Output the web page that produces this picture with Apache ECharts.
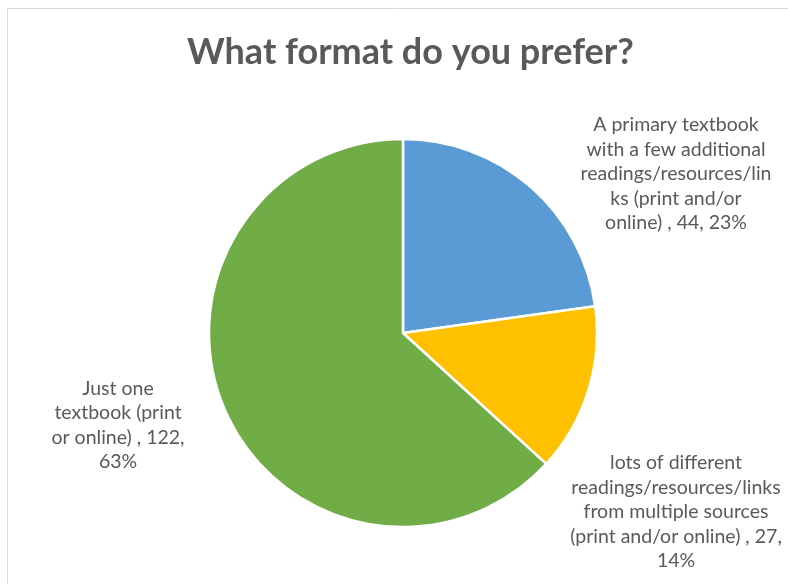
<!DOCTYPE html>
<html>
<head>
<meta charset="utf-8">
<style>
  html, body { margin: 0; padding: 0; background: #ffffff; }
  #chart { width: 788px; height: 584px; }
</style>
<script src="https://cdn.jsdelivr.net/npm/echarts@6/dist/echarts.min.js"></script>
</head>
<body>
<div id="chart"></div>
<script>
// Survey answers: "What format do you prefer?"
const categories = [
  'A primary textbook\nwith a few additional\nreadings/resources/lin\nks (print and/or\nonline)',
  'lots of different\nreadings/resources/links\nfrom multiple sources\n(print and/or online)',
  'Just one\ntextbook (print\nor online)'
];
const responses = [44, 27, 122];
const sliceColors = ['#5B9BD5', '#FFC000', '#70AD47'];

// How each label wraps between the value and the percentage
const percentBreak = [' ', '\n', '\n'];
// Label block centres (px)
const labelSpots = [
  { x: 676, y: 174 },
  { x: 676, y: 512 },
  { x: 118, y: 425 }
];

const chart = echarts.init(document.getElementById('chart'), null, { renderer: 'canvas' });
const total = responses.reduce((a, b) => a + b, 0);

chart.setOption({
  animation: false,
  backgroundColor: '#ffffff',
  title: {
    text: 'What format do you prefer?',
    left: 182,
    top: 29,
    textStyle: {
      fontFamily: 'Lato, "Open Sans", sans-serif',
      fontWeight: 'bold',
      fontSize: 36,
      color: '#595959'
    }
  },
  graphic: [{
    type: 'rect',
    shape: { x: 7.5, y: 8.5, width: 820, height: 620 },
    style: { fill: 'none', stroke: '#d9d9d9', lineWidth: 1 },
    silent: true
  }],
  series: [{
    type: 'pie',
    center: [403, 333],
    radius: 194,
    startAngle: 90,
    clockwise: true,
    data: categories.map((name, i) => ({
      name: name,
      value: responses[i],
      itemStyle: { color: sliceColors[i] }
    })),
    itemStyle: { borderColor: '#ffffff', borderWidth: 2.5 },
    label: {
      show: true,
      position: 'outside',
      overflow: 'none',
      formatter: p => p.name + ' , ' + p.value + ',' + percentBreak[p.dataIndex] +
        Math.round(p.value / total * 100) + '%',
      fontFamily: 'Lato, "Open Sans", sans-serif',
      fontSize: 19.5,
      lineHeight: 24.5,
      color: '#595959',
      align: 'center'
    },
    labelLine: { show: false },
    labelLayout: p => ({
      x: labelSpots[p.dataIndex].x,
      y: labelSpots[p.dataIndex].y,
      align: 'center',
      verticalAlign: 'middle'
    }),
    emphasis: { disabled: true }
  }]
});
</script>
</body>
</html>
